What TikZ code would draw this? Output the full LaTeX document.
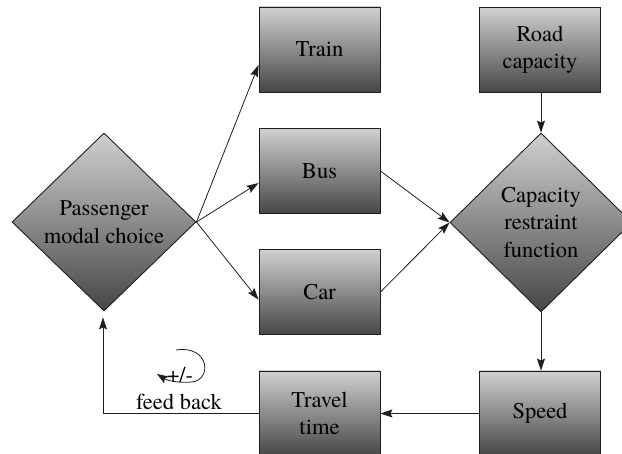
\documentclass[tikz,border=0pt]{standalone}
\usepackage{fontspec}
\IfFontExistsTF{TeX Gyre Termes}
  {\newfontfamily\labelfont{TeX Gyre Termes}}
  {\newfontfamily\labelfont{Liberation Serif}}
\usetikzlibrary{shapes.geometric,arrows.meta,calc}
\definecolor{shadetop}{RGB}{208,208,208}
\definecolor{shadebot}{RGB}{70,70,70}
\definecolor{edge}{RGB}{30,30,30}
\begin{document}
\begin{tikzpicture}[x=1pt,y=-1pt,
  every node/.style={font=\labelfont\fontsize{22.5}{27.5}\selectfont},
  stagebox/.style={draw=edge,line width=0.9pt,top color=shadetop,bottom color=shadebot,
    minimum width=121pt,minimum height=85pt,inner sep=0pt,align=center},
  choice/.style={diamond,draw=edge,line width=0.9pt,top color=shadetop,bottom color=shadebot,
    inner sep=0pt,align=center},
  flow/.style={draw=edge,line width=0.8pt,-{Stealth[length=12pt,width=8pt,inset=2pt]}},
  loopflow/.style={draw=edge,line width=0.8pt,-{Stealth[length=11pt,width=8pt,inset=2pt]}}]
\useasboundingbox (0,0) rectangle (622,454);

% decision nodes
\node[choice,minimum width=184pt,minimum height=178pt] (pmc) at (104,222) {Passenger\\modal choice};
\node[choice,minimum width=182pt,minimum height=179pt] (crf) at (541,222.5) {Capacity\\restraint\\function};

% stage boxes
\node[stagebox] (train) at (319.5,49.5) {Train};
\node[stagebox] (bus) at (319.5,171) {Bus};
\node[stagebox] (car) at (319.5,292) {Car};
\node[stagebox] (road) at (540,50) {Road\\capacity};
\node[stagebox] (speed) at (540,413.5) {Speed};
\node[stagebox] (travel) at (319.5,413.5) {Travel\\time};

% mode split
\draw[flow] (pmc.east) -- ($(train.north west)!0.68!(train.south west)$);
\draw[flow] (pmc.east) -- ($(bus.north west)!0.64!(bus.south west)$);
\draw[flow] (pmc.east) -- ($(car.north west)!0.59!(car.south west)$);

% loading onto the road network
\draw[flow] (bus.east) -- (crf.west);
\draw[flow] (car.east) -- (crf.west);
\draw[flow] (road.south -| crf.north) -- (crf.north);
\draw[flow] (crf.south) -- (crf.south |- speed.north);
\draw[flow] (speed.west) -- (travel.east);

% feedback to the modal choice
\coordinate (fbin) at ($(pmc.south)+(-1,6)$);
\draw[flow] (travel.west) -| (fbin);
\coordinate (loopstart) at (176,350);
\coordinate (loopend) at (157,374);
\draw[loopflow] (loopstart) .. controls (210,345) and (212,380) .. (192,382)
  .. controls (180,383) and (168,381) .. (loopend);
\node (fb) at (179,402) {feed back};
\node (pm) at (180,375.5) {+/-};
\end{tikzpicture}
\end{document}
